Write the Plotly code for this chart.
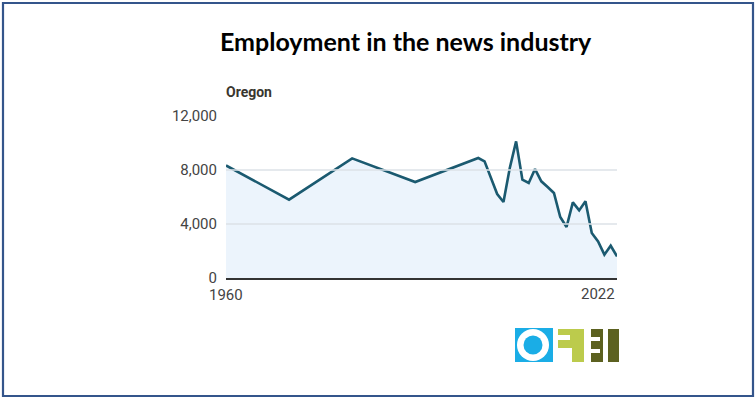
import plotly.graph_objects as go

years = [1960, 1970, 1980, 1990, 2000, 2001, 2003, 2004, 2005, 2006, 2007, 2008,
         2009, 2010, 2011, 2012, 2013, 2014, 2015, 2016, 2017, 2018, 2019, 2020,
         2021, 2022]
employment = [8340, 5800, 8860, 7110, 8890, 8640, 6220, 5630, 8150, 10120, 7280, 7040,
              8070, 7160, 6740, 6300, 4520, 3780, 5600, 5010, 5680, 3330, 2710, 1730,
              2390, 1600]
y_ticks = [0, 4000, 8000, 12000]
y_tick_text = ["0", "4,000", "8,000", "12,000"]
grid_values = [4000, 8000]
x_end_labels = ["1960", "2022"]

title_text = "Employment in the news industry"
region_label = "Oregon"

W, H = 756, 398
PLOT_L, PLOT_R, PLOT_T, PLOT_B = 226, 617, 116, 278  # page pixels
L, T, R, B = PLOT_L, PLOT_T, W - PLOT_R, H - PLOT_B
PW = W - L - R
PH = H - T - B

fig = go.Figure()
fig.add_trace(go.Scatter(
    x=years, y=employment, mode="lines",
    line=dict(color="#1b5a70", width=2.6),
    fill="tozeroy", fillcolor="#ecf4fc",
    hoverinfo="skip", showlegend=False,
))

def px_x(px):
    return (px - PLOT_L) / PW

def px_y(py):
    return (PLOT_B - py) / PH

shapes = []
for g in grid_values:
    shapes.append(dict(type="line", xref="paper", yref="y", x0=0, x1=1, y0=g, y1=g,
                       line=dict(color="#dde2e7", width=1.3), layer="above"))

# border
shapes.append(dict(type="rect", xref="paper", yref="paper",
                   x0=px_x(3), x1=px_x(753), y0=px_y(396), y1=px_y(3),
                   line=dict(color="#34558b", width=2.2), fillcolor="rgba(0,0,0,0)"))

# OPB logo
def rect(x0, y0, x1, y1, color):
    return dict(type="rect", xref="paper", yref="paper",
                x0=px_x(x0), x1=px_x(x1), y0=px_y(y1), y1=px_y(y0),
                line=dict(width=0), fillcolor=color, layer="above")

def circle(cx, cy, r, color):
    return dict(type="circle", xref="paper", yref="paper",
                x0=px_x(cx - r), x1=px_x(cx + r), y0=px_y(cy + r), y1=px_y(cy - r),
                line=dict(width=0), fillcolor=color, layer="above")

blue, green, olive = "#1aade6", "#bccb4c", "#5c6120"
shapes += [
    rect(515, 328, 553, 362, blue),
    circle(533, 345, 16, "white"),
    circle(533, 345, 9.5, blue),
    rect(558, 329, 584, 362, green),
    rect(557, 335, 570, 340, "white"),
    rect(557, 348, 572, 363, "white"),
    rect(591, 329, 619, 362, olive),
    rect(603, 328, 608, 363, "white"),
    rect(590, 337, 600, 341, "white"),
    rect(590, 349, 600, 353, "white"),
]

annotations = [
    dict(text=f"<b>{title_text}</b>", xref="paper", yref="paper",
         x=px_x(406), y=px_y(41), xanchor="center", yanchor="middle", showarrow=False,
         font=dict(family="Lato", size=25, color="#000000")),
    dict(text=f"<b>{region_label}</b>", xref="paper", yref="paper",
         x=px_x(224), y=px_y(92), xanchor="left", yanchor="middle", showarrow=False,
         font=dict(family="Roboto", size=14, color="#3a372f")),
    dict(text=x_end_labels[0], xref="x", yref="paper", x=years[0], y=px_y(295),
         xanchor="center", yanchor="middle", showarrow=False,
         font=dict(family="Roboto", size=15, color="#444444")),
    dict(text=x_end_labels[1], xref="x", yref="paper", x=years[-1], y=px_y(294),
         xanchor="right", yanchor="middle", showarrow=False,
         font=dict(family="Roboto", size=15, color="#444444")),
]

fig.update_layout(
    width=W, height=H,
    margin=dict(l=L, r=R, t=T, b=B, pad=0),
    paper_bgcolor="white", plot_bgcolor="white",
    shapes=shapes, annotations=annotations,
    xaxis=dict(range=[1960, 2022], showgrid=False, zeroline=False,
               showticklabels=False, ticks="",
               showline=True, linecolor="#333333", linewidth=1.6),
    yaxis=dict(range=[0, 12000], tickvals=y_ticks, ticktext=y_tick_text,
               showgrid=False, zeroline=False, showline=False, ticks="",
               ticklabelstandoff=8,
               tickfont=dict(family="Roboto", size=15, color="#444444")),
)

fig.write_html("out.html", config={"displayModeBar": False},
               post_script="document.body.style.margin='0';")
